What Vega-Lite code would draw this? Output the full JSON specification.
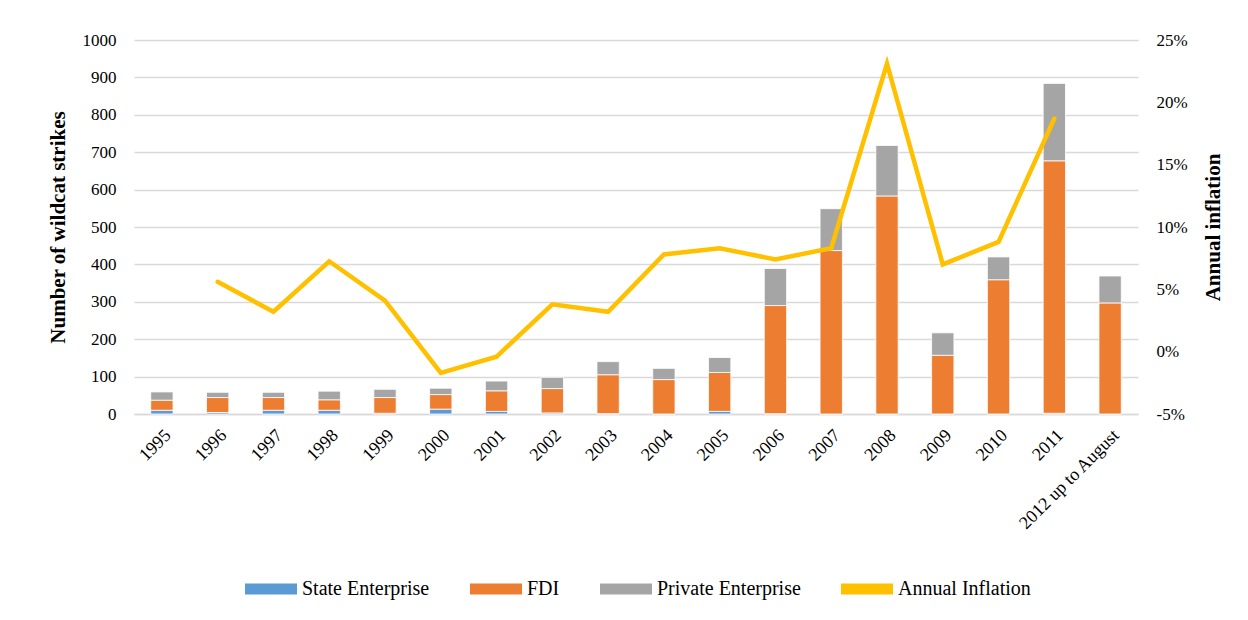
{
  "$schema": "https://vega.github.io/schema/vega-lite/v6.json",
  "width": 1004,
  "height": 374,
  "autosize": {"type": "none"},
  "padding": {"left": 134, "top": 40, "right": 110, "bottom": 206},
  "background": "white",
  "config": {
    "font": "Liberation Serif",
    "view": {"stroke": null},
    "axis": {"labelFont": "Liberation Serif", "titleFont": "Liberation Serif", "labelColor": "#000000", "titleColor": "#000000"},
    "legend": {"labelFont": "Liberation Serif", "labelColor": "#000000"}
  },
  "datasets": {
    "strikes": [
      {"year": "1995", "series": "State Enterprise", "value": 10},
      {"year": "1995", "series": "FDI", "value": 27},
      {"year": "1995", "series": "Private Enterprise", "value": 22},
      {"year": "1996", "series": "State Enterprise", "value": 4},
      {"year": "1996", "series": "FDI", "value": 40},
      {"year": "1996", "series": "Private Enterprise", "value": 14},
      {"year": "1997", "series": "State Enterprise", "value": 10},
      {"year": "1997", "series": "FDI", "value": 34},
      {"year": "1997", "series": "Private Enterprise", "value": 14},
      {"year": "1998", "series": "State Enterprise", "value": 10},
      {"year": "1998", "series": "FDI", "value": 28},
      {"year": "1998", "series": "Private Enterprise", "value": 23},
      {"year": "1999", "series": "State Enterprise", "value": 2},
      {"year": "1999", "series": "FDI", "value": 42},
      {"year": "1999", "series": "Private Enterprise", "value": 22},
      {"year": "2000", "series": "State Enterprise", "value": 13},
      {"year": "2000", "series": "FDI", "value": 39},
      {"year": "2000", "series": "Private Enterprise", "value": 17},
      {"year": "2001", "series": "State Enterprise", "value": 7},
      {"year": "2001", "series": "FDI", "value": 55},
      {"year": "2001", "series": "Private Enterprise", "value": 26},
      {"year": "2002", "series": "State Enterprise", "value": 3},
      {"year": "2002", "series": "FDI", "value": 65},
      {"year": "2002", "series": "Private Enterprise", "value": 30},
      {"year": "2003", "series": "State Enterprise", "value": 1},
      {"year": "2003", "series": "FDI", "value": 104},
      {"year": "2003", "series": "Private Enterprise", "value": 35},
      {"year": "2004", "series": "State Enterprise", "value": 0},
      {"year": "2004", "series": "FDI", "value": 92},
      {"year": "2004", "series": "Private Enterprise", "value": 30},
      {"year": "2005", "series": "State Enterprise", "value": 7},
      {"year": "2005", "series": "FDI", "value": 104},
      {"year": "2005", "series": "Private Enterprise", "value": 40},
      {"year": "2006", "series": "State Enterprise", "value": 1},
      {"year": "2006", "series": "FDI", "value": 289},
      {"year": "2006", "series": "Private Enterprise", "value": 99},
      {"year": "2007", "series": "State Enterprise", "value": 0},
      {"year": "2007", "series": "FDI", "value": 437},
      {"year": "2007", "series": "Private Enterprise", "value": 112},
      {"year": "2008", "series": "State Enterprise", "value": 0},
      {"year": "2008", "series": "FDI", "value": 583},
      {"year": "2008", "series": "Private Enterprise", "value": 135},
      {"year": "2009", "series": "State Enterprise", "value": 0},
      {"year": "2009", "series": "FDI", "value": 157},
      {"year": "2009", "series": "Private Enterprise", "value": 60},
      {"year": "2010", "series": "State Enterprise", "value": 0},
      {"year": "2010", "series": "FDI", "value": 359},
      {"year": "2010", "series": "Private Enterprise", "value": 61},
      {"year": "2011", "series": "State Enterprise", "value": 2},
      {"year": "2011", "series": "FDI", "value": 675},
      {"year": "2011", "series": "Private Enterprise", "value": 207},
      {"year": "2012 up to August", "series": "State Enterprise", "value": 0},
      {"year": "2012 up to August", "series": "FDI", "value": 297},
      {"year": "2012 up to August", "series": "Private Enterprise", "value": 72}
    ],
    "inflation": [
      {"year": "1996", "series": "Annual Inflation", "inflation": 0.056},
      {"year": "1997", "series": "Annual Inflation", "inflation": 0.032},
      {"year": "1998", "series": "Annual Inflation", "inflation": 0.0725},
      {"year": "1999", "series": "Annual Inflation", "inflation": 0.041},
      {"year": "2000", "series": "Annual Inflation", "inflation": -0.017},
      {"year": "2001", "series": "Annual Inflation", "inflation": -0.004},
      {"year": "2002", "series": "Annual Inflation", "inflation": 0.038},
      {"year": "2003", "series": "Annual Inflation", "inflation": 0.032},
      {"year": "2004", "series": "Annual Inflation", "inflation": 0.078},
      {"year": "2005", "series": "Annual Inflation", "inflation": 0.083},
      {"year": "2006", "series": "Annual Inflation", "inflation": 0.074},
      {"year": "2007", "series": "Annual Inflation", "inflation": 0.083},
      {"year": "2008", "series": "Annual Inflation", "inflation": 0.231},
      {"year": "2009", "series": "Annual Inflation", "inflation": 0.070},
      {"year": "2010", "series": "Annual Inflation", "inflation": 0.088},
      {"year": "2011", "series": "Annual Inflation", "inflation": 0.187}
    ]
  },
  "layer": [
    {
      "data": {"name": "strikes"},
      "transform": [
        {"calculate": "indexof(['State Enterprise','FDI','Private Enterprise'], datum.series)", "as": "ord"}
      ],
      "mark": {"type": "bar", "stroke": "#ffffff", "strokeWidth": 0.8},
      "encoding": {
        "x": {
          "field": "year", "type": "nominal", "sort": null,
          "scale": {"paddingInner": 0.6, "paddingOuter": 0.3},
          "axis": {"title": null, "labelAngle": -45, "labelFontSize": 18, "ticks": false, "domainColor": "#d9d9d9", "domainWidth": 1.5, "labelPadding": 12, "grid": false}
        },
        "y": {
          "field": "value", "type": "quantitative", "stack": "zero",
          "scale": {"domain": [0, 1000]},
          "axis": {"title": "Number of wildcat strikes", "titleFontSize": 21, "titleFontWeight": "bold", "values": [0, 100, 200, 300, 400, 500, 600, 700, 800, 900, 1000], "format": "d", "labelFontSize": 17, "ticks": false, "domain": false, "gridColor": "#d9d9d9", "gridWidth": 1.5, "labelPadding": 18, "titlePadding": 14}
        },
        "color": {
          "field": "series", "type": "nominal",
          "scale": {"domain": ["State Enterprise", "FDI", "Private Enterprise", "Annual Inflation"], "range": ["#5b9bd5", "#ed7d31", "#a5a5a5", "#ffc000"]},
          "legend": {
            "title": null, "orient": "none", "legendX": 111, "legendY": 523, "direction": "horizontal", "labelFontSize": 20,
            "padding": 0,
            "symbolType": "M-1,-0.21H1V0.21H-1Z", "symbolSize": 2704, "symbolStrokeWidth": 0,
            "columnPadding": 40, "labelOffset": 5,
            "encode": {"symbols": {"update": {
              "shape": {"signal": "datum.value === 'Annual Inflation' ? 'M-1.03,-0.087H1.03V0.087H-1.03Z' : 'M-1,-0.21H1V0.21H-1Z'"},
              "fill": {"signal": "scale('color', datum.value)"},
              "opacity": {"value": 1},
              "strokeWidth": {"value": 0}
            }}}
          }
        },
        "order": {"field": "ord", "type": "quantitative", "sort": "ascending"}
      }
    },
    {
      "data": {"name": "inflation"},
      "mark": {"type": "line", "strokeWidth": 4.5, "strokeCap": "round", "strokeJoin": "miter"},
      "encoding": {
        "x": {"field": "year", "type": "nominal", "sort": null},
        "y": {
          "field": "inflation", "type": "quantitative",
          "scale": {"domain": [-0.05, 0.25]},
          "axis": {"orient": "right", "title": "Annual inflation", "titleFontSize": 21, "titleFontWeight": "bold", "titleAngle": 270, "values": [-0.05, 0, 0.05, 0.1, 0.15, 0.2, 0.25], "labelExpr": "round(datum.value*100) + '%'", "labelFontSize": 17, "grid": false, "ticks": false, "domain": false, "labelPadding": 18, "titlePadding": 36}
        },
        "color": {"field": "series", "type": "nominal"}
      }
    }
  ],
  "resolve": {"scale": {"y": "independent"}}
}
